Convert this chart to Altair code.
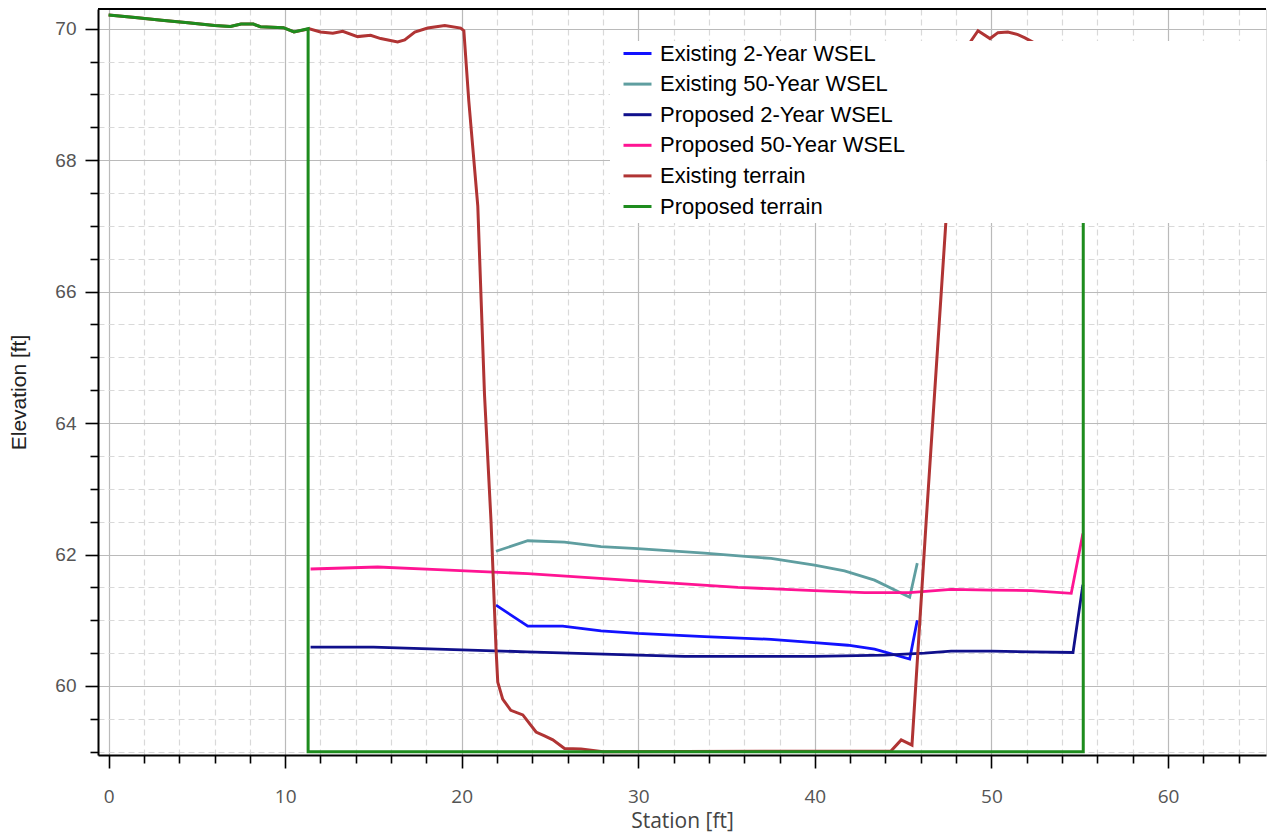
import altair as alt
import pandas as pd

series_names = ["Existing 2-Year WSEL", "Existing 50-Year WSEL", "Proposed 2-Year WSEL",
                "Proposed 50-Year WSEL", "Existing terrain", "Proposed terrain"]
series_colors = ["#1212ff", "#5f9ea0", "#10108c", "#ff1493", "#b03434", "#1e8c1e"]

# Existing 2-Year WSEL
e2_x = [21.94, 23.74, 25.72, 27.89, 29.97, 33.75, 37.52, 39.98, 41.87, 43.38, 45.37, 45.80]
e2_y = [61.23, 60.91, 60.91, 60.84, 60.80, 60.75, 60.71, 60.66, 60.62, 60.56, 60.41, 61.00]

# Existing 50-Year WSEL
e50_x = [21.94, 23.74, 25.82, 27.89, 29.97, 33.75, 37.52, 39.98, 41.68, 43.38, 45.37, 45.80]
e50_y = [62.05, 62.21, 62.19, 62.12, 62.09, 62.02, 61.94, 61.84, 61.75, 61.61, 61.35, 61.87]

# Proposed 2-Year WSEL
p2_x = [11.44, 15.0, 18.64, 23.7, 29.97, 32.62, 39.98, 43.95, 46.21, 47.72, 49.99, 52.26, 54.62, 55.18]
p2_y = [60.59, 60.59, 60.56, 60.52, 60.47, 60.45, 60.45, 60.47, 60.50, 60.53, 60.53, 60.52, 60.51, 61.54]

# Proposed 50-Year WSEL
p50_x = [11.44, 15.24, 18.64, 23.74, 29.97, 35.64, 39.98, 42.82, 45.37, 47.72, 49.99, 52.26, 54.52, 55.18]
p50_y = [61.78, 61.81, 61.77, 61.71, 61.60, 61.50, 61.45, 61.42, 61.42, 61.47, 61.46, 61.45, 61.41, 62.32]

# Existing terrain
et_x = [0.0, 1.5, 3.0, 4.5, 6.0, 6.9, 7.5, 8.2, 8.6, 9.9, 10.5, 11.37, 12.0, 12.7, 13.26, 14.1,
        14.84, 15.41, 16.37, 16.77, 17.34, 18.07, 19.04, 19.94, 20.12, 20.4, 20.91, 21.29, 21.66,
        21.94, 22.04, 22.32, 22.78, 23.46, 24.21, 24.69, 25.16, 25.82, 26.76, 28.0, 44.31, 44.89,
        45.5, 46.31, 47.42, 48.3, 49.24, 49.92, 50.37, 50.93, 51.5, 51.9, 53.0, 55.5]
et_y = [70.21, 70.17, 70.13, 70.09, 70.05, 70.035, 70.07, 70.07, 70.03, 70.015, 69.95, 70.0, 69.95,
        69.93, 69.96, 69.88, 69.90, 69.85, 69.80, 69.83, 69.95, 70.01, 70.05, 70.01, 69.97, 68.9,
        67.3, 64.43, 62.50, 60.58, 60.06, 59.80, 59.63, 59.56, 59.30, 59.24, 59.18, 59.05, 59.04,
        59.0, 59.01, 59.18, 59.10, 62.53, 67.06, 69.60, 69.97, 69.85, 69.94, 69.95, 69.91, 69.86,
        69.70, 69.70]

# Proposed terrain
pt_x = [0.0, 1.5, 3.0, 4.5, 6.0, 6.9, 7.5, 8.2, 8.6, 9.9, 10.5, 11.3, 11.3, 55.2, 55.2]
pt_y = [70.21, 70.17, 70.13, 70.09, 70.05, 70.035, 70.07, 70.07, 70.03, 70.015, 69.95, 70.0,
        59.0, 59.0, 69.70]

x_ticks = list(range(0, 67, 2))
y_ticks = [59 + 0.5 * k for k in range(23)]


def frame(name, xs, ys):
    return pd.DataFrame({"station": xs, "elev": ys, "series": name, "i": list(range(len(xs)))})


W, H = 1168, 746

x_enc = alt.X(
    "station:Q",
    scale=alt.Scale(domain=[-0.6, 65.55], nice=False, zero=False),
    axis=alt.Axis(
        values=x_ticks,
        labelExpr="datum.value % 10 === 0 ? datum.label : ''",
        title="Station [ft]",
        grid=True,
        gridColor={"condition": {"test": "datum.value % 10 === 0", "value": "#bababa"}, "value": "#d9d9d9"},
        gridDash={"condition": {"test": "datum.value % 10 === 0", "value": []}, "value": [6, 4]},
        gridWidth=1.2,
        tickSize={"condition": {"test": "datum.value % 10 === 0", "value": 13}, "value": 8},
        tickColor="black",
        tickWidth=1.6,
        domainColor="black",
        domainWidth=2,
        labelFont="Open Sans",
        labelFontSize=19,
        labelColor="#555555",
        labelPadding=19,
        labelFlush=False,
        labelOverlap=False,
        titleFont="Open Sans",
        titleFontSize=21,
        titleFontWeight="normal",
        titleColor="#444444",
        titlePadding=4,
    ),
)

y_enc = alt.Y(
    "elev:Q",
    scale=alt.Scale(domain=[58.95, 70.3], nice=False, zero=False),
    axis=alt.Axis(
        values=y_ticks,
        format=".0f",
        labelExpr="datum.value % 2 === 0 ? datum.label : ''",
        title="Elevation [ft]",
        grid=True,
        gridColor={"condition": {"test": "datum.value % 2 === 0", "value": "#bababa"}, "value": "#d9d9d9"},
        gridDash={"condition": {"test": "datum.value % 2 === 0", "value": []}, "value": [6, 4]},
        gridWidth=1.2,
        tickSize={"condition": {"test": "datum.value % 2 === 0", "value": 13}, "value": 8},
        tickColor="black",
        tickWidth=1.6,
        domainColor="black",
        domainWidth=2,
        labelFont="Liberation Sans",
        labelFontSize=19,
        labelColor="#555555",
        labelPadding=9,
        labelOverlap=False,
        titleFont="Liberation Sans",
        titleFontSize=21,
        titleFontWeight="normal",
        titleColor="#222222",
        titlePadding=25,
        titleY=383,
    ),
)

color_enc = alt.Color(
    "series:N",
    scale=alt.Scale(domain=series_names, range=series_colors),
    legend=alt.Legend(
        title=None,
        orient="none",
        legendX=524,
        legendY=29,
        symbolType="stroke",
        symbolSize=784,
        symbolStrokeWidth=3,
        labelFont="Liberation Sans",
        labelFontSize=22,
        labelColor="black",
        labelLimit=500,
        labelOffset=7,
        rowPadding=3.6,
        padding=0,
    ),
)


def line_layer(df, width=3):
    return alt.Chart(df).mark_line(strokeWidth=width, clip=True).encode(
        x=x_enc, y=y_enc, color=color_enc, order="i:Q"
    )


wsel = pd.concat([frame(series_names[0], e2_x, e2_y), frame(series_names[1], e50_x, e50_y),
                  frame(series_names[2], p2_x, p2_y), frame(series_names[3], p50_x, p50_y)])
wsel_layer = alt.Chart(wsel).mark_line(strokeWidth=2.8, clip=True).encode(
    x=x_enc, y=y_enc, color=color_enc, detail="series:N", order="i:Q"
)
existing_layer = line_layer(frame(series_names[4], et_x, et_y), 3)
proposed_layer = line_layer(frame(series_names[5], pt_x, pt_y), 3)

legend_bg = alt.Chart(pd.DataFrame({"a": [0]})).mark_rect(color="white").encode(
    x=alt.value(512), x2=alt.value(W), y=alt.value(32), y2=alt.value(214)
)
top_border = alt.Chart(pd.DataFrame({"a": [0]})).mark_rule(color="black", strokeWidth=2).encode(
    x=alt.value(0), x2=alt.value(W), y=alt.value(0)
)

chart = alt.layer(wsel_layer, existing_layer, proposed_layer, legend_bg, top_border).properties(
    width=W, height=H, padding={"left": 0, "top": 0, "right": 0, "bottom": 4}
).configure_view(stroke=None).configure(background="white")

chart.save("out.html", embed_options={"renderer": "svg", "actions": False})
